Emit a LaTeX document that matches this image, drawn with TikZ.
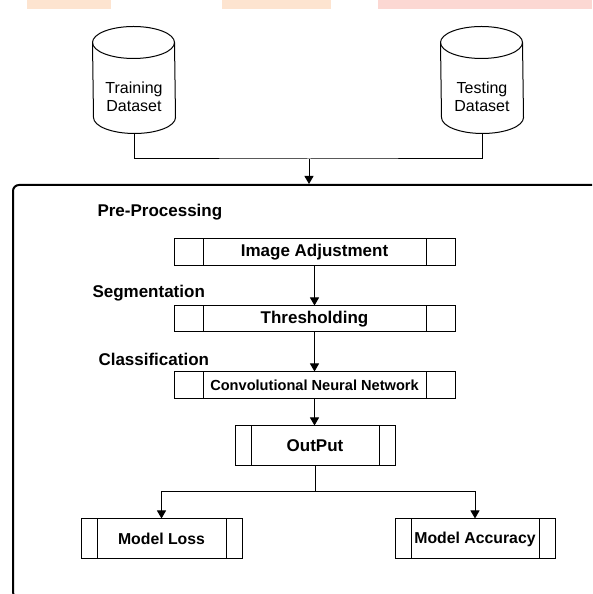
\documentclass[tikz,border=0pt]{standalone}
\usepackage{fontspec}
\setmainfont{Liberation Sans}
\usepackage{xcolor}
\usetikzlibrary{positioning,arrows.meta,calc}
\definecolor{barpeach}{RGB}{253,228,208}
\definecolor{barpink}{RGB}{252,216,211}

\begin{document}
\begin{tikzpicture}[
    x=1pt, y=1pt,
    line width=1pt,
    proc/.style={
        draw,
        inner sep=0pt,
        font=\fontsize{17}{20}\selectfont\bfseries,
        path picture={
            \draw[line width=1pt]
                ([xshift=#1]path picture bounding box.north west) -- ([xshift=#1]path picture bounding box.south west)
                ([xshift=-#1]path picture bounding box.north east) -- ([xshift=-#1]path picture bounding box.south east);
        }
    },
    db/.style={
        inner sep=0pt,
        minimum width=82pt,
        minimum height=106pt
    },
    dbtext/.style={
        align=center,
        font=\fontsize{16}{18}\selectfont
    },
    phase/.style={
        anchor=west,
        inner sep=0pt,
        font=\fontsize{17}{20}\selectfont\bfseries
    },
    arr/.style={-{Triangle[length=8pt,width=9pt]}}
]
\useasboundingbox (0,0) rectangle (592,594);
\clip (0,0) rectangle (592,594);

% Faded strips at the top edge
\fill[barpeach] (27,585) rectangle (111,594);
\fill[barpeach] (222,585) rectangle (331,594);
\fill[barpink] (378,585) rectangle (592,594);

% Datasets
\node[db] (train) at (134,514) {};
\node[db] (test) at (482,514) {};
\foreach \d in {train,test} {
    \draw ([yshift=-16pt]\d.north west) arc[start angle=180, end angle=0, x radius=41pt, y radius=16pt]
        -- ([yshift=16pt]\d.south east) arc[start angle=0, end angle=-180, x radius=41pt, y radius=16pt] -- cycle;
    \draw ([yshift=-16pt]\d.north west) arc[start angle=180, end angle=360, x radius=41pt, y radius=16pt];
}
\node[dbtext] (traintxt) at (134,497) {Training\\Dataset};
\node[dbtext] (testtxt) at (482,497) {Testing\\Dataset};

% Outer frame
\node[draw, line width=2pt, rounded corners=6pt, inner sep=0pt,
      minimum width=597pt, minimum height=413pt] (frame) at (311.5,202.5) {};

% Joining the datasets
\coordinate (join) at (309,435);
\draw (train.south) |- (join) -| (test.south);
\draw[arr] (join) -- (join |- frame.north);

% Stages
\node[phase] (prelbl) at (97,382) {Pre-Processing};
\node[proc=29pt, minimum width=281pt, minimum height=27pt] (imgadj) at (314.5,341.5) {Image Adjustment};

\node[phase] (seglbl) at (92,301) {Segmentation};
\node[proc=29pt, minimum width=281pt, minimum height=26pt] (thresh) at (314.5,275) {Thresholding};

\node[phase] (clslbl) at (98,235) {Classification};
\node[proc=29pt, minimum width=281pt, minimum height=27pt,
      font=\fontsize{14.6}{17}\selectfont\bfseries] (cnn) at (314.5,208.5) {Convolutional Neural Network};

\node[proc=16pt, minimum width=160pt, minimum height=40pt] (output) at (315,148) {OutPut};

% Results
\node[proc=16pt, minimum width=161pt, minimum height=40pt,
      font=\fontsize{15.8}{18}\selectfont\bfseries] (loss) at (161.5,55) {Model Loss};
\node[proc=16pt, minimum width=160pt, minimum height=40pt,
      font=\fontsize{15.8}{18}\selectfont\bfseries] (acc) at (475,55) {Model Accuracy};

% Arrows
\draw[arr] (imgadj) -- (thresh);
\draw[arr] (thresh) -- (cnn);
\draw[arr] (cnn.south) -- (cnn.south |- output.north);
\coordinate (split) at (315,102);
\draw (output.south) -- (split);
\draw[arr] (split) -| (loss.north);
\draw[arr] (split) -| (acc.north);

\end{tikzpicture}
\end{document}
